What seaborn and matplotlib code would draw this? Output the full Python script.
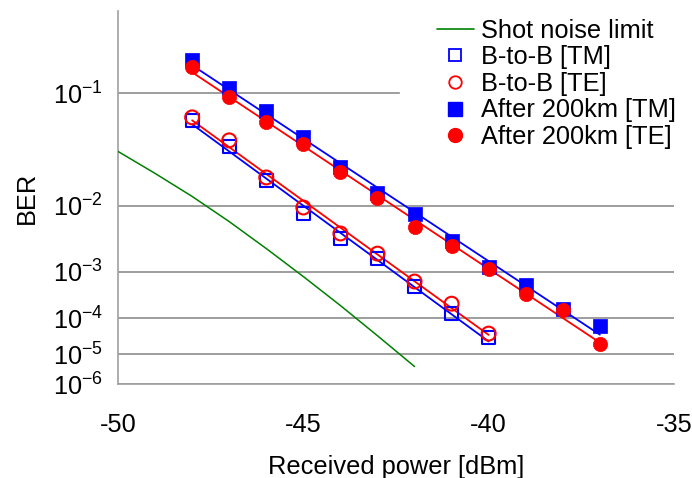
import numpy as np
import pandas as pd
import matplotlib
matplotlib.use("Agg")
import matplotlib.pyplot as plt
import seaborn as sns
from matplotlib.lines import Line2D
from matplotlib.ticker import NullLocator, FixedLocator

# ---------------- data ----------------
shot_x = [-50, -49, -48, -47, -46, -45, -44, -43, -42]
shot_ber = [0.0371, 0.0230, 0.01294, 0.00624, 0.00249, 8.05e-4, 2.0e-4, 3.5e-5, 4.1e-6]

b2b_x = [-48, -47, -46, -45, -44, -43, -42, -41, -40]
b2b_tm = [0.0659, 0.0410, 0.0195, 0.00800, 0.00357, 0.00170, 5.1e-4, 1.29e-4, 3.1e-5]
b2b_te = [0.0692, 0.0461, 0.0209, 0.00952, 0.00424, 0.00206, 6.45e-4, 2.2e-4, 4.0e-5]

km_x = [-48, -47, -46, -45, -44, -43, -42, -41, -40, -39, -38, -37]
km_tm = [0.153, 0.107, 0.0764, 0.0488, 0.0264, 0.0140, 0.00776, 0.00322, 0.00123, 5.6e-4, 1.7e-4, 6.5e-5]
km_te = [0.142, 0.0944, 0.0637, 0.0427, 0.0235, 0.01225, 0.00532, 0.00278, 0.00113, 3.66e-4, 1.6e-4, 2.1e-5]

yticks = [1e-1, 1e-2, 1e-3, 1e-4, 1e-5, 1e-6]
ytick_labels = [r"$10^{-1}$", r"$10^{-2}$", r"$10^{-3}$", r"$10^{-4}$", r"$10^{-5}$", r"$10^{-6}$"]
xticks = [-50, -45, -40, -35]
xtick_labels = ["-50", "-45", "-40", "-35"]

labels = ["Shot noise limit", "B-to-B [TM]", "B-to-B [TE]", "After 200km [TM]", "After 200km [TE]"]

# ---------------- style ----------------
sns.set_theme(style="white")
plt.rcParams["font.family"] = ["Liberation Sans", "DejaVu Sans"]
plt.rcParams["mathtext.fontset"] = "custom"
plt.rcParams["mathtext.rm"] = "Liberation Sans"
plt.rcParams["mathtext.it"] = "Liberation Sans:italic"
plt.rcParams["mathtext.bf"] = "Liberation Sans:bold"
for k in ["text.color", "axes.labelcolor", "xtick.labelcolor", "ytick.labelcolor"]:
    plt.rcParams[k] = "black"

FS = 18.3
BLUE = "#0000FF"
RED = "#FF0000"
GREEN = "#008000"
GRAY = "#8C8C8C"


def fwd(b):
    b = np.asarray(b, dtype=float)
    with np.errstate(all="ignore"):
        return -np.log10(-np.log10(b))


def inv(t):
    t = np.asarray(t, dtype=float)
    with np.errstate(all="ignore"):
        return 10 ** (-(10 ** (-t)))


fig = plt.figure(figsize=(6.92, 4.78), dpi=100)
ax = fig.add_axes([118 / 692, 1 - 384 / 478, (674 - 118) / 692, (384 - 11) / 478])
ax.set_yscale("function", functions=(fwd, inv))

# fitted lines (linear in the Q-scale)
def fit_df(x, y):
    p = np.polyfit(np.array(x, float), fwd(y), 1)
    xs = np.array([x[0], x[-1]], float)
    return pd.DataFrame({"x": xs, "y": inv(np.polyval(p, xs))})

for x, y, c in [(b2b_x, b2b_tm, BLUE), (b2b_x, b2b_te, RED),
                (km_x, km_tm, BLUE), (km_x, km_te, RED)]:
    d = fit_df(x, y)
    sns.lineplot(data=d, x="x", y="y", ax=ax, color=c, lw=1.3, legend=False, zorder=3)

shot_df = pd.DataFrame({"x": shot_x, "y": shot_ber})
sns.lineplot(data=shot_df, x="x", y="y", ax=ax, color=GREEN, lw=1.1, legend=False, zorder=3)

MS = 10
d = pd.DataFrame({"x": b2b_x, "y": b2b_tm})
sns.scatterplot(data=d, x="x", y="y", ax=ax, marker="s", s=MS ** 2 * 0.85,
                facecolor="none", edgecolor=BLUE, linewidth=1.5, zorder=4, legend=False)
d = pd.DataFrame({"x": b2b_x, "y": b2b_te})
sns.scatterplot(data=d, x="x", y="y", ax=ax, marker="o", s=MS ** 2,
                facecolor="none", edgecolor=RED, linewidth=1.5, zorder=5, legend=False)
d = pd.DataFrame({"x": km_x, "y": km_tm})
sns.scatterplot(data=d, x="x", y="y", ax=ax, marker="s", s=MS ** 2 * 0.95,
                color=BLUE, edgecolor=BLUE, linewidth=0.5, zorder=4, legend=False)
d = pd.DataFrame({"x": km_x, "y": km_te})
sns.scatterplot(data=d, x="x", y="y", ax=ax, marker="o", s=MS ** 2 * 1.05,
                color=RED, edgecolor=RED, linewidth=0.5, zorder=5, legend=False)

# axes
ax.set_xlim(-50, -35)
ax.set_ylim(1e-6, 0.25)
ax.yaxis.set_major_locator(FixedLocator(yticks))
ax.yaxis.set_minor_locator(NullLocator())
ax.set_yticklabels(ytick_labels)
ax.set_xticks(xticks)
ax.set_xticklabels(xtick_labels)
ax.tick_params(axis="x", direction="in", length=7, width=1, color=GRAY, pad=21, labelsize=FS)
ax.tick_params(axis="y", length=0, pad=11, labelsize=FS)
ax.yaxis.grid(True, color=GRAY, lw=1.2)
ax.xaxis.grid(False)
ax.spines["top"].set_visible(False)
ax.spines["right"].set_visible(False)
for s in ["left", "bottom"]:
    ax.spines[s].set_color("#A0A0A0")
    ax.spines[s].set_linewidth(1.2)

ax.set_xlabel("Received power [dBm]", fontsize=FS, labelpad=12.5)
ax.set_ylabel("BER", fontsize=FS, labelpad=10)

handles = [
    Line2D([], [], color=GREEN, lw=1.2),
    Line2D([], [], ls="none", marker="s", markersize=9, markerfacecolor="none", markeredgecolor=BLUE, markeredgewidth=1.3),
    Line2D([], [], ls="none", marker="o", markersize=9, markerfacecolor="none", markeredgecolor=RED, markeredgewidth=1.3),
    Line2D([], [], ls="none", marker="s", markersize=10, markerfacecolor=BLUE, markeredgecolor=BLUE),
    Line2D([], [], ls="none", marker="o", markersize=10, markerfacecolor=RED, markeredgecolor=RED),
]
leg = ax.legend(handles, labels, loc="upper left", bbox_to_anchor=(400 / 692, 1 + 18 / 478),
                bbox_transform=fig.transFigure, fontsize=FS, frameon=True, fancybox=False,
                framealpha=1, edgecolor="white", facecolor="white", borderpad=1.45,
                labelspacing=0.1, handlelength=1.45, handletextpad=0.28, borderaxespad=0)
leg.set_zorder(10)

fig.savefig("out.png", dpi=100)
